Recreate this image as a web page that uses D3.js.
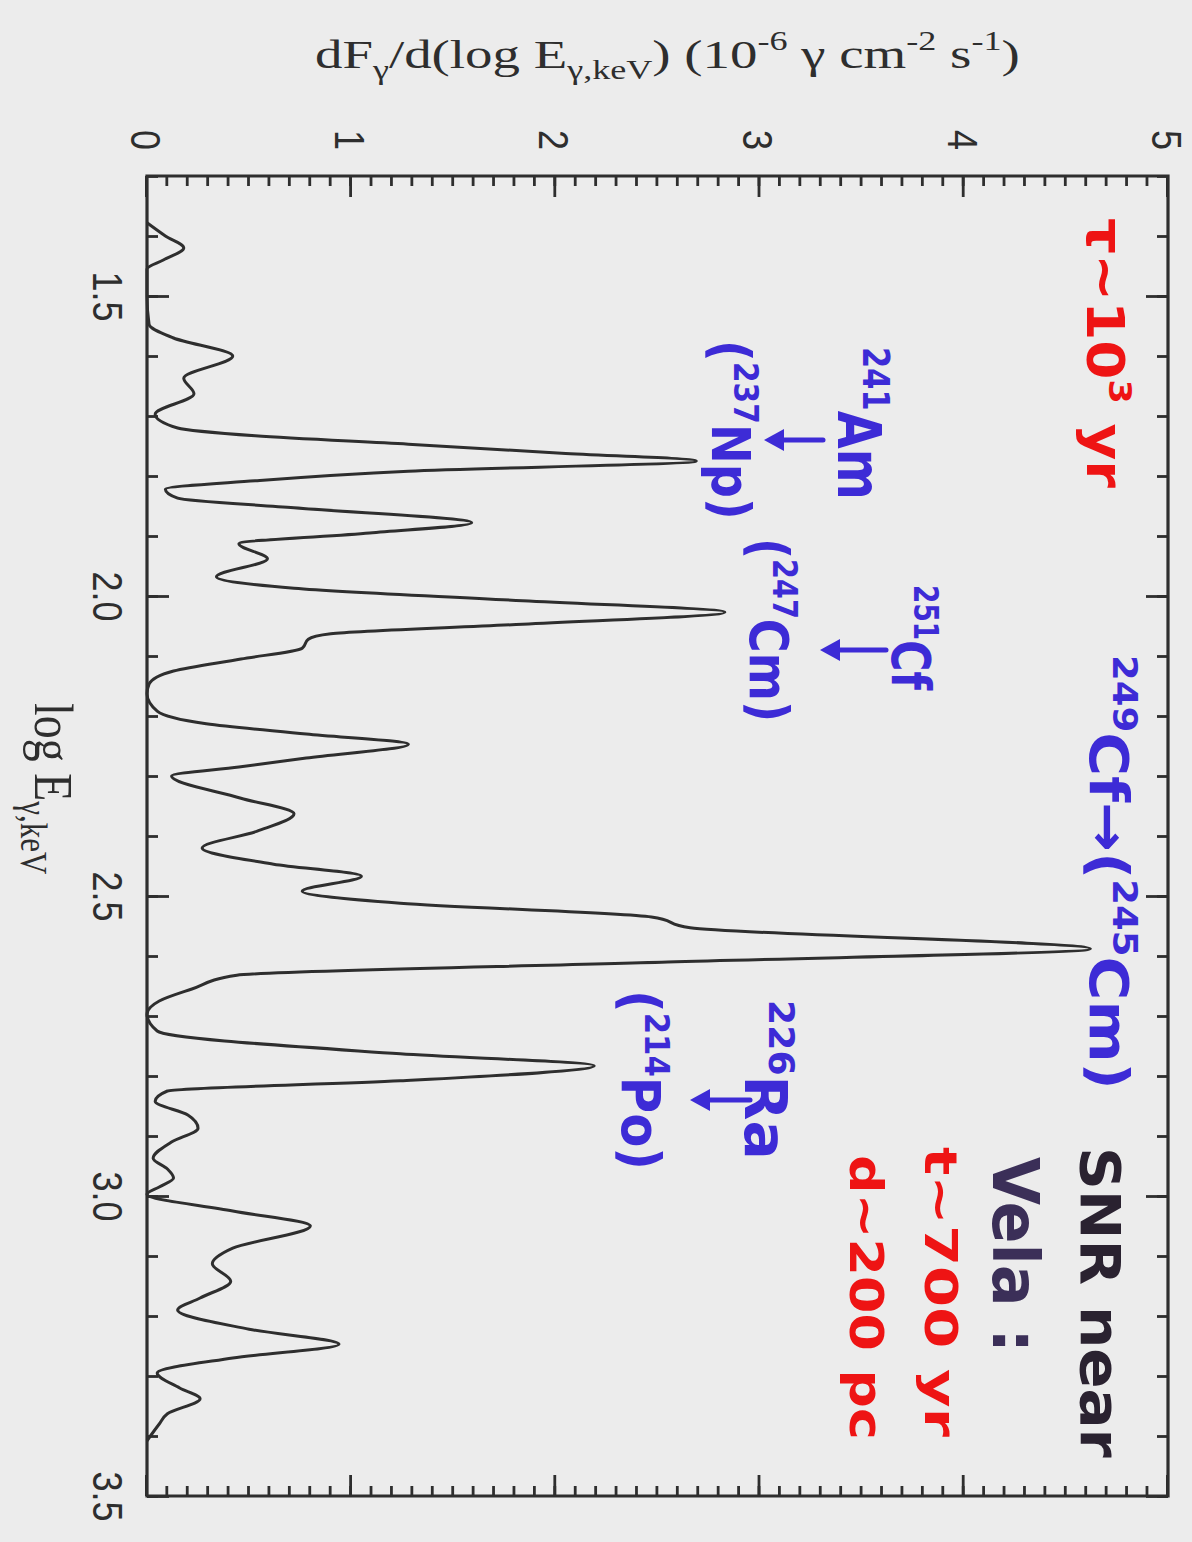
<!DOCTYPE html>
<html>
<head>
<meta charset="utf-8">
<script src="https://cdn.jsdelivr.net/npm/d3@7"></script>
<style>
  body { margin: 0; background: #ececec; }
  svg { display: block; }
</style>
</head>
<body>
<div id="chart"></div>
<script>
// Spectrum: log E (keV) and dF/d(log E) in 1e-6 photons/cm2/s
const logE = [1.378, 1.40, 1.42, 1.44, 1.455, 1.50, 1.547, 1.57, 1.60, 1.637, 1.663, 1.697,
  1.72, 1.733, 1.747, 1.762, 1.775, 1.792, 1.808, 1.822, 1.837, 1.853, 1.878, 1.895, 1.913,
  1.938, 1.968, 1.987, 2.008, 2.027, 2.047, 2.063, 2.072, 2.087, 2.105, 2.125, 2.147, 2.163,
  2.192, 2.213, 2.23, 2.247, 2.27, 2.285, 2.30, 2.337, 2.363, 2.392, 2.42, 2.447, 2.467, 2.492,
  2.512, 2.535, 2.553, 2.588, 2.61, 2.632, 2.655, 2.675, 2.697, 2.725, 2.763, 2.783, 2.808,
  2.825, 2.842, 2.865, 2.887, 2.91, 2.937, 2.955, 2.97, 2.985, 2.997, 3.025, 3.05, 3.087,
  3.113, 3.142, 3.17, 3.19, 3.222, 3.247, 3.27, 3.295, 3.32, 3.338, 3.363, 3.38, 3.408];
const flux = [0, 0.09, 0.18, 0.08, 0.0, 0.0, 0.01, 0.13, 0.42, 0.18, 0.23, 0.04,
  0.15, 0.53, 1.28, 2.03, 2.69, 1.28, 0.53, 0.09, 0.15, 0.72, 1.59, 1.09, 0.45,
  0.59, 0.34, 0.72, 1.84, 2.83, 1.84, 0.9, 0.79, 0.76, 0.46, 0.13, 0.01, 0.0,
  0.05, 0.29, 0.78, 1.28, 0.78, 0.45, 0.12, 0.46, 0.72, 0.54, 0.27, 0.62, 1.05, 0.76,
  1.24, 2.47, 2.66, 4.62, 2.55, 0.44, 0.22, 0.06, 0.0, 0.05, 1.24, 2.19, 1.24,
  0.1, 0.04, 0.2, 0.25, 0.12, 0.03, 0.1, 0.13, 0.06, 0.0, 0.42, 0.80, 0.42,
  0.32, 0.41, 0.26, 0.15, 0.5, 0.94, 0.42, 0.05, 0.16, 0.26, 0.1, 0.06, 0.0];

const logEDomain = [1.3, 3.5];
const fluxDomain = [0, 5];
const logETicks = [1.5, 2.0, 2.5, 3.0, 3.5];
const logEMinor = d3.range(13, 36).map(d => d / 10);
const fluxTicks = [0, 1, 2, 3, 4, 5];
const fluxMinor = d3.range(0, 51).map(d => d / 10);

const width = 1192;
const height = 1542;
const ink = "#2e2e2e";
const blue = "#3d2bd6";
const red = "#ee1414";

const svg = d3.select("#chart")
    .append("svg")
    .attr("width", width)
    .attr("height", height);

svg.append("rect").attr("width", width).attr("height", height).attr("fill", "#ececec");

// The figure is a normal spectrum plot turned a quarter turn clockwise
const frame = {left: 147, right: 1168, top: 176, bottom: 1496};
const stretch = 1.2; // the scan is wider across the page than along it
const plotW = frame.bottom - frame.top;
const plotH = (frame.right - frame.left) / stretch;

const x = d3.scaleLinear().domain(logEDomain).range([0, plotW]);
const y = d3.scaleLinear().domain(fluxDomain).range([plotH, 0]);

const g = svg.append("g")
    .attr("transform", `translate(${frame.right},${frame.top}) rotate(90) scale(1,${stretch})`);

function styleAxis(sel) {
    sel.select(".domain").remove();
    sel.selectAll("line")
        .attr("stroke", ink)
        .attr("stroke-width", 2.8)
        .attr("vector-effect", "non-scaling-stroke");
}

// minor ticks
g.append("g").attr("transform", `translate(0,${plotH})`)
    .call(d3.axisBottom(x).tickValues(logEMinor).tickSize(-11 / stretch).tickFormat(""))
    .call(styleAxis);
g.append("g")
    .call(d3.axisTop(x).tickValues(logEMinor).tickSize(-11 / stretch).tickFormat(""))
    .call(styleAxis);
g.append("g")
    .call(d3.axisLeft(y).tickValues(fluxMinor).tickSize(-10).tickFormat(""))
    .call(styleAxis);
g.append("g").attr("transform", `translate(${plotW},0)`)
    .call(d3.axisRight(y).tickValues(fluxMinor).tickSize(-10).tickFormat(""))
    .call(styleAxis);

// major ticks with labels
const axE = g.append("g").attr("transform", `translate(0,${plotH})`)
    .call(d3.axisBottom(x).tickValues(logETicks).tickSize(-22 / stretch).tickFormat(d3.format(".1f")))
    .call(styleAxis);
axE.selectAll("text")
    .attr("y", 45).attr("dy", 0)
    .attr("font-family", "'Liberation Sans', Arial, sans-serif")
    .attr("font-size", 36).attr("fill", ink);

g.append("g")
    .call(d3.axisTop(x).tickValues(logETicks).tickSize(-22 / stretch).tickFormat(""))
    .call(styleAxis);

const axF = g.append("g")
    .call(d3.axisLeft(y).tickValues(fluxTicks).tickSize(-21).tickFormat(d3.format("d")))
    .call(styleAxis);
axF.selectAll("text")
    .attr("x", -36).attr("dy", "0.36em")
    .attr("text-anchor", "middle")
    .attr("font-family", "'Liberation Sans', Arial, sans-serif")
    .attr("font-size", 36).attr("fill", ink);

g.append("g").attr("transform", `translate(${plotW},0)`)
    .call(d3.axisRight(y).tickValues(fluxTicks).tickSize(-21).tickFormat(""))
    .call(styleAxis);

// frame
g.append("rect")
    .attr("x", 0).attr("y", 0)
    .attr("width", plotW).attr("height", plotH)
    .attr("fill", "none")
    .attr("stroke", ink)
    .attr("stroke-width", 3.2)
    .attr("vector-effect", "non-scaling-stroke");

// spectrum
const line = d3.line()
    .x(i => x(logE[i]))
    .y(i => y(flux[i]))
    .curve(d3.curveMonotoneX);

g.append("path")
    .datum(d3.range(logE.length))
    .attr("fill", "none")
    .attr("stroke", ink)
    .attr("stroke-width", 3)
    .attr("stroke-linejoin", "round")
    .attr("vector-effect", "non-scaling-stroke")
    .attr("d", line);

// x axis title (log E) sits under the logE axis
const xt = g.append("text")
    .attr("x", 527).attr("y", 944)
    .attr("font-family", "'Liberation Serif', 'Times New Roman', serif")
    .attr("font-size", 46).attr("fill", ink);
xt.append("tspan").text("log E");
xt.append("tspan").text("γ,keV").attr("font-size", 31).attr("baseline-shift", -12);

// y axis title, upright across the top of the page
const yt = svg.append("text")
    .attr("font-family", "'Liberation Serif', 'Times New Roman', serif")
    .attr("font-size", 41).attr("fill", ink);
[["dF"], ["γ", "sub"], ["/d(log E"], ["γ,keV", "sub"], [") (10"], ["-6", "sup"],
 [" γ cm"], ["-2", "sup"], [" s"], ["-1", "sup"], [")"]].forEach(([t, k]) => {
    const s = yt.append("tspan").text(t);
    if (k === "sub") s.attr("font-size", 27).attr("baseline-shift", -11);
    if (k === "sup") s.attr("font-size", 27).attr("baseline-shift", 18);
});
const ytLen = yt.node().getComputedTextLength();
yt.attr("transform", `translate(315,68) scale(${705 / ytLen},1)`);

// hand-written notes, turned with the page
function note(parts, o) {
    const t = svg.append("text")
        .attr("font-family", "'DejaVu Sans', sans-serif")
        .attr("font-weight", "bold")
        .attr("font-size", o.size)
        .attr("fill", o.color);
    parts.forEach(p => {
        const s = t.append("tspan").text(p[0]);
        if (p[1] === "sup") s.attr("font-size", o.size * 0.62).attr("baseline-shift", o.size * 0.42);
    });
    const len = t.node().getComputedTextLength();
    t.attr("transform", `translate(${o.x},${o.y}) rotate(90) scale(${o.len / len},1)`);
}

function arrow(x1, x2, yy) {
    svg.append("line")
        .attr("x1", x1).attr("x2", x2 + 14).attr("y1", yy).attr("y2", yy)
        .attr("stroke", blue).attr("stroke-width", 5).attr("stroke-linecap", "round");
    svg.append("path")
        .attr("d", `M${x2},${yy} L${x2 + 20},${yy - 11} L${x2 + 20},${yy + 11} Z`)
        .attr("fill", blue);
}

note([["τ~10"], ["3", "sup"], [" yr"]], {x: 1087, y: 218, len: 270, size: 52, color: red});
note([["SNR near"]], {x: 1081, y: 1147, len: 311, size: 56, color: "#2a2230"});
note([["Vela :"]], {x: 993, y: 1157, len: 196, size: 64, color: "#3b2f58"});
note([["t~700 yr"]], {x: 925, y: 1147, len: 290, size: 44, color: red});
note([["d~200 pc"]], {x: 850, y: 1155, len: 285, size: 46, color: red});

note([["241", "sup"], ["Am"]], {x: 838, y: 347, len: 153, size: 60, color: blue});
note([["("], ["237", "sup"], ["Np)"]], {x: 712, y: 340, len: 180, size: 54, color: blue});
note([["251", "sup"], ["Cf"]], {x: 892, y: 585, len: 105, size: 54, color: blue});
note([["("], ["247", "sup"], ["Cm)"]], {x: 750, y: 538, len: 184, size: 54, color: blue});
note([["249", "sup"], ["Cf→("], ["245", "sup"], ["Cm)"]], {x: 1090, y: 655, len: 435, size: 54, color: blue});
note([["226", "sup"], ["Ra"]], {x: 745, y: 1000, len: 160, size: 58, color: blue});
note([["("], ["214", "sup"], ["Po)"]], {x: 622, y: 990, len: 180, size: 54, color: blue});

arrow(823, 764, 440);
arrow(886, 820, 650);
arrow(750, 690, 1100);
</script>
</body>
</html>
